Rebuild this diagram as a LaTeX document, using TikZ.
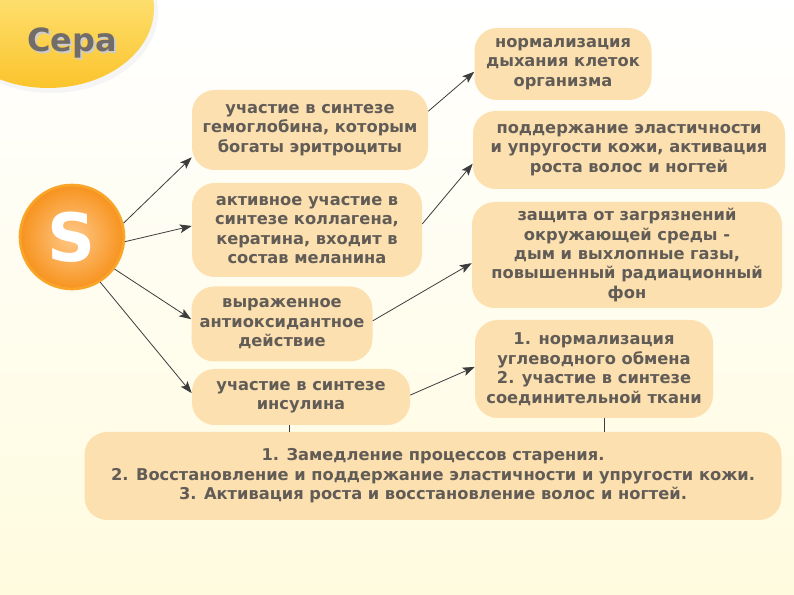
\documentclass[tikz,border=0pt]{standalone}
\usepackage{fontspec}
\setmainfont{DejaVu Sans}
\usetikzlibrary{arrows.meta,calc}
\definecolor{boxfill}{HTML}{FCE0B0}
\definecolor{txtgray}{HTML}{625C57}
\definecolor{arrgray}{HTML}{3C3C3C}
\definecolor{cream}{HTML}{FFFBDF}
\definecolor{tabtop}{HTML}{FFF3A0}
\definecolor{tabbot}{HTML}{FBC42C}
\definecolor{sinner}{HTML}{FFC98A}
\definecolor{souter}{HTML}{F7931E}
\definecolor{sring}{HTML}{F9A52A}

\begin{document}
\begin{tikzpicture}[x=0.75pt,y=-0.75pt,>={Stealth[length=9pt,width=6.5pt,inset=2pt]},
	box/.style={rounded corners=17pt, fill=boxfill, text=txtgray, font=\bfseries\fontsize{12.2}{14.6}\selectfont, align=center, inner sep=0pt},
	arr/.style={->, arrgray, line width=0.6pt},
	link/.style={arrgray, line width=0.6pt}]
	\useasboundingbox (0,0) rectangle (794,595);
	\shade[top color=white, bottom color=cream] (0,0) rectangle (794,595);
	% title tab
	\begin{scope}
		\clip (0,0) rectangle (794,595);
		\fill[black!4] (51,12) ellipse [x radius=107, y radius=81];
		\shade[top color=tabtop, bottom color=tabbot] (48,8) ellipse [x radius=106, y radius=80];
	\end{scope}
	\node[text=black!20, font=\bfseries\fontsize{24}{24}\selectfont] (titleshadow) at (74,45) {Сера};
	\node[text=txtgray!90, font=\bfseries\fontsize{24}{24}\selectfont] (title) at (72,43) {Сера};

	% sulfur
	\node[circle, minimum size=78pt, draw=sring, line width=2pt, inner color=sinner, outer color=souter, text=white, font=\bfseries\fontsize{50}{50}\selectfont] (s) at (72,237) {S};

	% left column
	\node[box, minimum width=177pt, minimum height=60pt] (gem) at (310,130) {участие в синтезе\\гемоглобина, которым\\богаты эритроциты};
	\node[box, minimum width=172.5pt, minimum height=70.5pt] (kol) at (307,230) {активное участие в\\синтезе коллагена,\\кератина, входит в\\состав меланина};
	\node[box, minimum width=135.75pt, minimum height=56.25pt] (aox) at (282,324) {выраженное\\антиоксидантное\\действие};
	\node[box, minimum width=163.5pt, minimum height=42pt] (ins) at (301,397) {участие в синтезе\\инсулина};

	% right column
	\node[box, minimum width=132.75pt, minimum height=54pt] (dyh) at (563,64) {нормализация\\дыхания клеток\\организма};
	\node[box, minimum width=234pt, minimum height=58.5pt] (koz) at (629,150) {поддержание эластичности\\и упругости кожи, активация\\роста волос и ногтей};
	\node[box, minimum width=232.5pt, minimum height=79.5pt] (zas) at (627,255) {защита от загрязнений\\окружающей среды -\\дым и выхлопные газы,\\повышенный радиационный\\фон};
	\node[box, minimum width=178.5pt, minimum height=73.5pt] (ugl) at (594,369) {1. нормализация\\углеводного обмена\\2. участие в синтезе\\соединительной ткани};

	% summary
	\node[box, minimum width=522.75pt, minimum height=66pt] (bot) at (433,476) {1. Замедление процессов старения.\\2. Восстановление и поддержание эластичности и упругости кожи.\\3. Активация роста и восстановление волос и ногтей.};

	\draw[arr] (s.15) -- (gem.193); \draw[arr] (s.-5) -- (kol.178); \draw[arr] (s.-37) -- (aox.177); \draw[arr] (s.-58) -- (ins.178);
	\draw[arr] (gem.9) -- (dyh.185.5); \draw[arr] (kol.3.5) -- (koz.185.4); \draw[arr] (aox.2.5) -- (zas.183); \draw[arr] (ins.1) -- (ugl.179);
	\draw[link] (ins.248.6) -- (ins.248.6 |- bot.north); \draw[link] (ugl.-78.5) -- (ugl.-78.5 |- bot.north);
\end{tikzpicture}
\end{document}
